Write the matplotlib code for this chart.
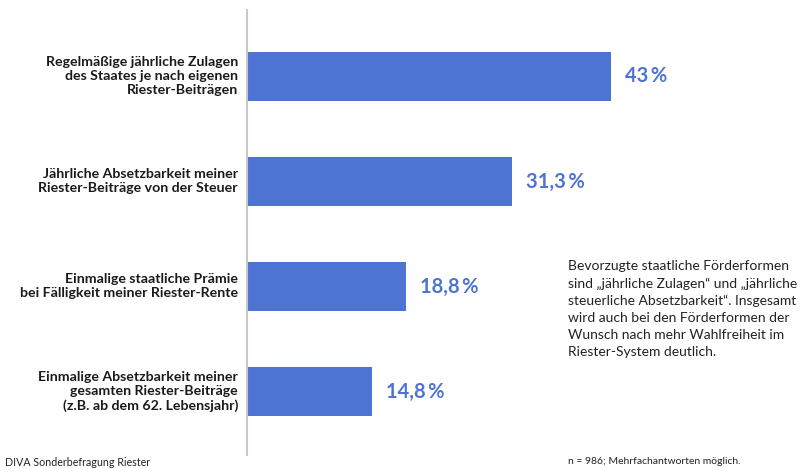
import matplotlib
matplotlib.use("Agg")
import matplotlib.pyplot as plt

plt.rcParams["font.family"] = ["Lato", "DejaVu Sans"]

categories = [
    "Regelmäßige jährliche Zulagen\ndes Staates je nach eigenen\nRiester-Beiträgen",
    "Jährliche Absetzbarkeit meiner\nRiester-Beiträge von der Steuer",
    "Einmalige staatliche Prämie\nbei Fälligkeit meiner Riester-Rente",
    "Einmalige Absetzbarkeit meiner\ngesamten Riester-Beiträge\n(z.B. ab dem 62. Lebensjahr)",
]
values = [43.0, 31.3, 18.8, 14.8]
value_labels = ["43\u2009%", "31,3\u2009%", "18,8\u2009%", "14,8\u2009%"]

note = ("Bevorzugte staatliche Förderformen\n"
        "sind „jährliche Zulagen“ und „jährliche\n"
        "steuerliche Absetzbarkeit“. Insgesamt\n"
        "wird auch bei den Förderformen der\n"
        "Wunsch nach mehr Wahlfreiheit im\n"
        "Riester-System deutlich.")
source = "DIVA Sonderbefragung Riester"
sample = "n = 986; Mehrfachantworten möglich."

BAR = "#4D73D3"
W, H = 800, 468

fig = plt.figure(figsize=(W / 100, H / 100), dpi=100)
ax = fig.add_axes([247 / W, 1 - 455 / H, (W - 247) / W, 445 / H])

pos = list(range(len(values)))
ax.barh(pos, values, height=0.47, color=BAR)
ax.set_xlim(0, 65.3)
ax.set_ylim(3.605, -0.633)

for p, v, lab, cat in zip(pos, values, value_labels, categories):
    ax.text(v + 1.6, p, lab, va="center", ha="left", fontsize=14.5,
            fontweight="bold", color=BAR)
    ax.text(-1.05, p, cat, va="center", ha="right",
            fontsize=10.2, fontweight="bold", color="#1a1a1a",
            linespacing=1.2, clip_on=False)

for s in ("top", "right", "bottom"):
    ax.spines[s].set_visible(False)
ax.spines["left"].set_color("#c8c8c8")
ax.spines["left"].set_linewidth(1.5)
ax.set_xticks([])
ax.set_yticks([])

fig.text(568 / W, 1 - 260 / H, note, ha="left", va="top", fontsize=10,
         color="#222222", linespacing=1.5)
fig.text(5 / W, 1 - 462 / H, source, ha="left", va="center", fontsize=7.7,
         color="#222222")
fig.text(568 / W, 1 - 462 / H, sample, ha="left", va="center", fontsize=7.5,
         color="#222222")

fig.savefig("out.png", dpi=100)
